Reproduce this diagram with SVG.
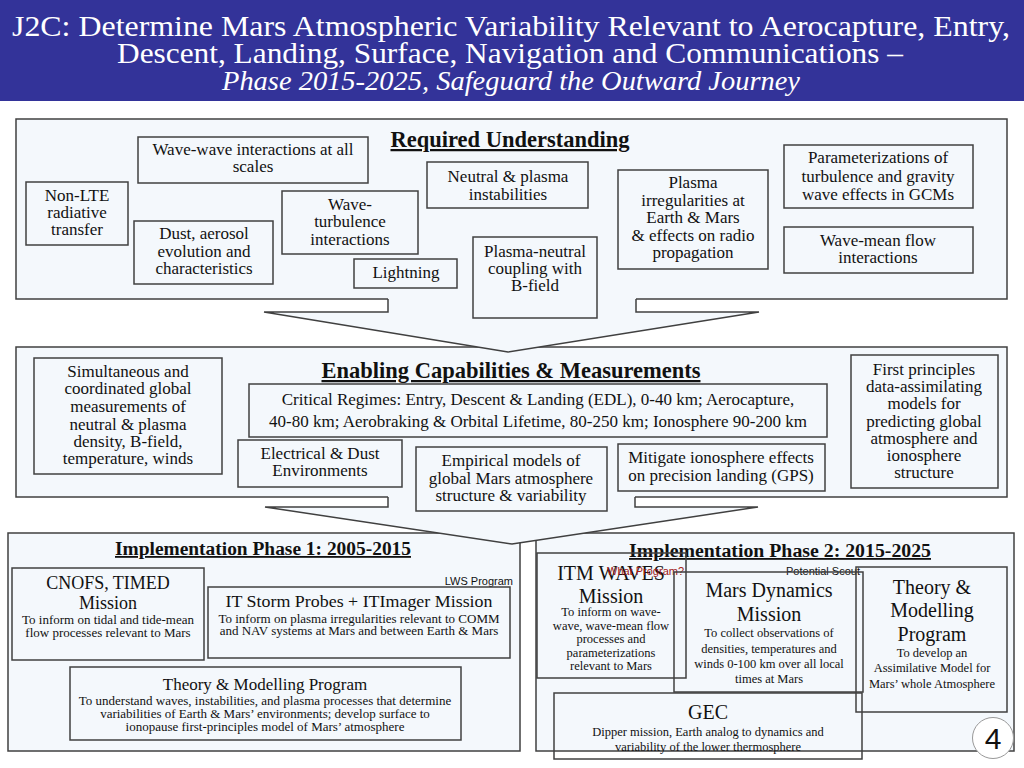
<svg xmlns="http://www.w3.org/2000/svg" width="1024" height="768" viewBox="0 0 1024 768">
<style>
.panel{fill:#f4f8fc;stroke:#404040;stroke-width:1.5}
.arrow{fill:#f4f8fc;stroke:#404040;stroke-width:1.5;stroke-linejoin:miter}
.box{fill:#f4f8fc;stroke:#404040;stroke-width:1.5}
.obox{fill:none;stroke:#404040;stroke-width:1.5}
.t{font-family:"Liberation Serif","Times New Roman",serif;fill:#111;text-anchor:middle}
.f17{font-size:17px}
.f20{font-size:20px}
.f18{font-size:18px}
.f13{font-size:13px}
.f12{font-size:12.5px}
.hd{font-weight:bold;text-decoration:underline}
.s{font-family:"Liberation Sans",Arial,sans-serif;font-size:11px;fill:#111}
.ht{font-family:"Liberation Serif","Times New Roman",serif;fill:#fff}
</style>
<rect width="1024" height="768" fill="#fff"/>
<g id="header">
<rect x="0" y="0" width="1024" height="101" fill="#333399"/>
<text class="ht" x="12" y="36" font-size="29" textLength="998" lengthAdjust="spacingAndGlyphs">J2C:  Determine Mars Atmospheric Variability Relevant to Aerocapture, Entry,</text>
<text class="ht" x="117" y="63" font-size="29" textLength="786" lengthAdjust="spacingAndGlyphs">Descent, Landing, Surface, Navigation and Communications –</text>
<text class="ht" x="222" y="90" font-size="27" font-style="italic" textLength="578" lengthAdjust="spacingAndGlyphs">Phase 2015-2025, Safeguard the Outward Journey</text>
</g>
<g id="panels">
<path id="panel-required" class="panel" d="M388,299 H16 V119 H1007 V299 H636"/>
<path id="panel-enabling" class="panel" d="M388,497 H16 V347 H1007 V497 H635"/>
<rect id="panel-phase1" class="panel" x="8" y="533" width="512" height="218"/>
<rect id="panel-phase2" class="panel" x="536" y="533" width="478" height="218"/>
</g>
<g id="connectors">
<path class="arrow" d="M388,299 V312 H264 L508,352 L759,312 H636 V299"/>
<path class="arrow" d="M388,497 V507 H265 L512,544 L758,507 H635 V497"/>
</g>
<g id="titles">
<text class="t hd" x="510" y="147" font-size="22.5">Required Understanding</text>
<text class="t hd" x="511" y="378" font-size="22.5">Enabling Capabilities &amp; Measurements</text>
<text class="t hd" x="263" y="555" font-size="18" textLength="296" lengthAdjust="spacingAndGlyphs">Implementation Phase 1: 2005-2015</text>
<text class="t hd" x="780" y="557" font-size="18" textLength="302" lengthAdjust="spacingAndGlyphs">Implementation Phase 2: 2015-2025</text>
</g>
<g id="u-wavewave"><rect class="box" x="138" y="137" width="230" height="46"/>
<text class="t f17" x="253"><tspan x="253" y="155">Wave-wave interactions at all</tspan><tspan x="253" y="172">scales</tspan></text></g>
<g id="u-nonlte"><rect class="box" x="26" y="182" width="102" height="63"/>
<text class="t f17"><tspan x="77" y="201">Non-LTE</tspan><tspan x="77" y="218">radiative</tspan><tspan x="77" y="235">transfer</tspan></text></g>
<g id="u-dust"><rect class="box" x="134" y="221" width="139" height="63"/>
<text class="t f17"><tspan x="204" y="239">Dust, aerosol</tspan><tspan x="204" y="257">evolution and</tspan><tspan x="204" y="274">characteristics</tspan></text></g>
<g id="u-waveturb"><rect class="box" x="282" y="191" width="136" height="63"/>
<text class="t f17"><tspan x="350" y="210">Wave-</tspan><tspan x="350" y="227">turbulence</tspan><tspan x="350" y="245">interactions</tspan></text></g>
<g id="u-lightning"><rect class="box" x="354" y="259" width="103" height="29"/>
<text class="t f17" x="406" y="278">Lightning</text></g>
<g id="u-neutral"><rect class="box" x="427" y="162" width="161" height="46"/>
<text class="t f17"><tspan x="508" y="182">Neutral &amp; plasma</tspan><tspan x="508" y="200">instabilities</tspan></text></g>
<g id="u-plasmaneutral"><rect class="box" x="473" y="237" width="124" height="81"/>
<text class="t f17"><tspan x="535" y="257">Plasma-neutral</tspan><tspan x="535" y="274">coupling with</tspan><tspan x="535" y="291">B-field</tspan></text></g>
<g id="u-plasmairreg"><rect class="box" x="618" y="170" width="150" height="99"/>
<text class="t f17"><tspan x="693" y="188">Plasma</tspan><tspan x="693" y="206">irregularities at</tspan><tspan x="693" y="223">Earth &amp; Mars</tspan><tspan x="693" y="241">&amp; effects on radio</tspan><tspan x="693" y="258">propagation</tspan></text></g>
<g id="u-param"><rect class="box" x="784" y="145" width="189" height="63"/>
<text class="t f17"><tspan x="878" y="163">Parameterizations of</tspan><tspan x="878" y="182">turbulence and gravity</tspan><tspan x="878" y="200">wave effects in GCMs</tspan></text></g>
<g id="u-wavemean"><rect class="box" x="784" y="227" width="189" height="46"/>
<text class="t f17"><tspan x="878" y="246">Wave-mean flow</tspan><tspan x="878" y="263">interactions</tspan></text></g>
<g id="e-simultaneous"><rect class="box" x="34" y="358" width="188" height="116"/>
<text class="t f17"><tspan x="128" y="377">Simultaneous and</tspan><tspan x="128" y="394">coordinated global</tspan><tspan x="128" y="412">measurements of</tspan><tspan x="128" y="430">neutral &amp; plasma</tspan><tspan x="128" y="447">density, B-field,</tspan><tspan x="128" y="464">temperature, winds</tspan></text></g>
<g id="e-critical"><rect class="box" x="249" y="384" width="578" height="53"/>
<text class="t" font-size="17"><tspan x="538" y="405">Critical Regimes: Entry, Descent &amp; Landing (EDL), 0-40 km; Aerocapture,</tspan><tspan x="538" y="427">40-80 km; Aerobraking &amp; Orbital Lifetime, 80-250 km; Ionosphere 90-200 km</tspan></text></g>
<g id="e-electrical"><rect class="box" x="238" y="440" width="164" height="47"/>
<text class="t f17"><tspan x="320" y="459">Electrical &amp; Dust</tspan><tspan x="320" y="476">Environments</tspan></text></g>
<g id="e-empirical"><rect class="box" x="416" y="447" width="191" height="64"/>
<text class="t f17"><tspan x="511" y="466">Empirical models of</tspan><tspan x="511" y="484">global Mars atmosphere</tspan><tspan x="511" y="501">structure &amp; variability</tspan></text></g>
<g id="e-mitigate"><rect class="box" x="618" y="444" width="207" height="47"/>
<text class="t f17"><tspan x="721" y="463">Mitigate ionosphere effects</tspan><tspan x="721" y="481">on precision landing (GPS)</tspan></text></g>
<g id="e-firstprinciples"><rect class="box" x="851" y="355" width="147" height="133"/>
<text class="t f17"><tspan x="924" y="375">First principles</tspan><tspan x="924" y="392">data-assimilating</tspan><tspan x="924" y="409">models for</tspan><tspan x="924" y="427">predicting global</tspan><tspan x="924" y="444">atmosphere and</tspan><tspan x="924" y="461">ionosphere</tspan><tspan x="924" y="478">structure</tspan></text></g>
<g id="p1-cnofs"><rect class="box" x="12" y="568" width="192" height="92"/>
<text class="t f18"><tspan x="108" y="589">CNOFS, TIMED</tspan><tspan x="108" y="609">Mission</tspan></text>
<text class="t f13"><tspan x="108" y="624">To inform on tidal and tide-mean</tspan><tspan x="108" y="637">flow processes relevant to Mars</tspan></text></g>
<text class="s" x="513" y="585" text-anchor="end" font-size="11.5">LWS Program</text>
<g id="p1-itstorm"><rect class="box" x="208" y="587" width="302" height="71"/>
<text class="t" font-size="16.5" x="359" y="607" textLength="267" lengthAdjust="spacingAndGlyphs">IT Storm Probes + ITImager Mission</text>
<text class="t f13"><tspan x="359" y="623">To inform on plasma irregularities relevant to COMM</tspan><tspan x="359" y="635">and NAV systems at Mars and between Earth &amp; Mars</tspan></text></g>
<g id="p1-theory"><rect class="box" x="70" y="667" width="391" height="73"/>
<text class="t f17" x="265" y="690">Theory &amp; Modelling Program</text>
<text class="t f13"><tspan x="265" y="705">To understand waves, instabilities, and plasma processes that determine</tspan><tspan x="265" y="718">variabilities of Earth &amp; Mars’ environments; develop surface to</tspan><tspan x="265" y="731">ionopause first-principles model of Mars’ atmosphere</tspan></text></g>
<g id="p2-itmwaves"><rect class="obox" x="537" y="553" width="149" height="125"/>
<text class="t f20"><tspan x="611" y="580">ITM WAVES</tspan><tspan x="611" y="603">Mission</tspan></text>
<text class="t f12"><tspan x="611" y="616">To inform on wave-</tspan><tspan x="611" y="630">wave, wave-mean flow</tspan><tspan x="611" y="643">processes and</tspan><tspan x="611" y="657">parameterizations</tspan><tspan x="611" y="670">relevant to Mars</tspan></text></g>
<text class="s" x="607" y="575" fill="#a01818" style="fill:#a01818">What Program?</text>
<text class="s" x="786" y="575">Potential Scout</text>
<g id="p2-marsdynamics"><rect class="obox" x="674" y="572" width="189" height="120"/>
<text class="t f20"><tspan x="769" y="597">Mars Dynamics</tspan><tspan x="769" y="621">Mission</tspan></text>
<text class="t f12"><tspan x="769" y="637">To collect observations of</tspan><tspan x="769" y="653">densities, temperatures and</tspan><tspan x="769" y="668">winds 0-100 km over all local</tspan><tspan x="769" y="683">times at Mars</tspan></text></g>
<g id="p2-theory"><rect class="obox" x="856" y="567" width="151" height="145"/>
<text class="t f20"><tspan x="932" y="594">Theory &amp;</tspan><tspan x="932" y="617">Modelling</tspan><tspan x="932" y="641">Program</tspan></text>
<text class="t f12"><tspan x="932" y="657">To develop an</tspan><tspan x="932" y="672">Assimilative Model for</tspan><tspan x="932" y="688">Mars’ whole Atmosphere</tspan></text></g>
<g id="p2-gec"><rect class="obox" x="554" y="693" width="308" height="66"/>
<text class="t f20" x="708" y="719">GEC</text>
<text class="t f12"><tspan x="708" y="736">Dipper mission, Earth analog to dynamics and</tspan><tspan x="708" y="751">variability of  the lower thermosphere</tspan></text></g>
<g id="page-number">
<circle cx="993" cy="738" r="20.5" fill="#fff" stroke="#999" stroke-width="1"/>
<text x="993" y="749" font-family="Liberation Sans,Arial,sans-serif" font-size="30" text-anchor="middle" fill="#111">4</text>
</g>
</svg>
